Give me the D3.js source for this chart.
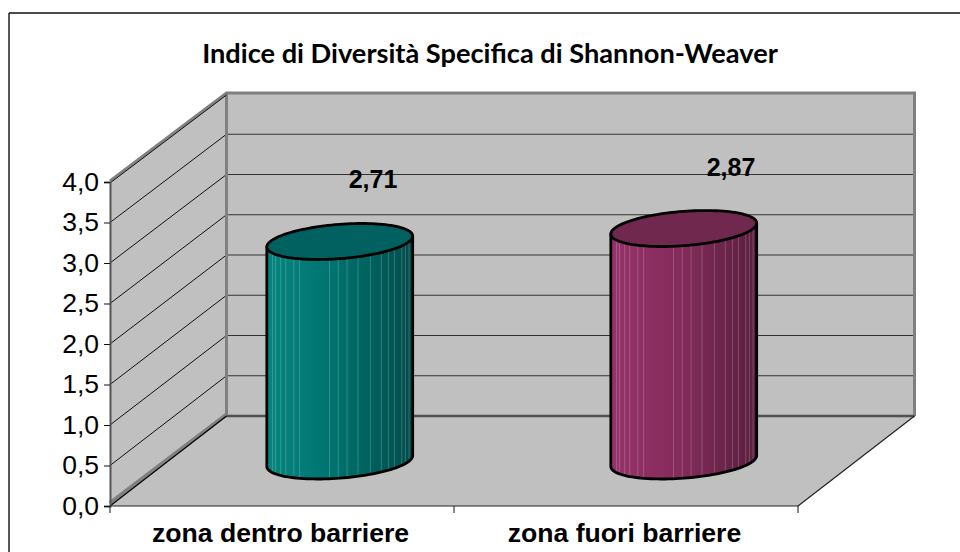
<!DOCTYPE html>
<html>
<head>
<meta charset="utf-8">
<script src="https://cdn.jsdelivr.net/npm/d3@7"></script>
<style>
  html, body { margin: 0; padding: 0; background: #fff; }
  svg { display: block; }
  text { font-family: "Liberation Sans", Arial, sans-serif; fill: #000; }
</style>
</head>
<body>
<svg id="chart" width="960" height="552"></svg>
<script>
// Chart values
const categories = ["zona dentro barriere", "zona fuori barriere"];
const values = [2.71, 2.87];
const valueLabels = ["2,71", "2,87"];
const yTicks = [0, 0.5, 1, 1.5, 2, 2.5, 3, 3.5, 4];
const chartTitle = "Indice di Diversità Specifica di Shannon-Weaver";

const svg = d3.select("#chart");

// Frame of the picture: only top and left edges are there
svg.append("line").attr("x1", 9).attr("y1", 13).attr("x2", 960).attr("y2", 13)
    .attr("stroke", "#111").attr("stroke-width", 1.4);
svg.append("line").attr("x1", 9).attr("y1", 13).attr("x2", 9).attr("y2", 552)
    .attr("stroke", "#111").attr("stroke-width", 1.4);

svg.append("text")
    .attr("x", 490).attr("y", 63)
    .attr("text-anchor", "middle")
    .style("font-family", "Lato, sans-serif")
    .style("font-weight", 700)
    .style("font-size", "27.2px")
    .text(chartTitle);

// Scales: front plane of the 3D box, the back wall has its own slightly flatter scale
const depth = { dx: 116.5, dy: -90 };
const x = d3.scaleBand().domain(categories).range([110, 798]);
const y = d3.scaleLinear().domain([0, 4]).range([506, 182]);
const yBack = d3.scaleLinear().domain([0, 4]).range([416, 94]);
const x0 = x.range()[0], x1 = x.range()[1];
const xb0 = x0 + depth.dx, xb1 = x1 + depth.dx;
const yBase = y(0), yTop = y(4);
const backBase = yBack(0), backTop = yBack(4);

const walls = svg.append("g");
const polygon = pts => "M" + pts.map(p => p.join(",")).join("L") + "Z";

// Floor
walls.append("path")
    .attr("d", polygon([[x0, yBase], [x1, yBase], [xb1, backBase], [xb0, backBase]]))
    .attr("fill", "#c0c0c0");
// Side wall
walls.append("path")
    .attr("d", polygon([[x0, yBase], [x0, yTop], [xb0, backTop], [xb0, backBase]]))
    .attr("fill", "#c0c0c0");
// Back wall
walls.append("rect")
    .attr("x", xb0).attr("y", backTop)
    .attr("width", x1 - x0).attr("height", backBase - backTop)
    .attr("fill", "#c0c0c0");

// Grid lines on both walls
const grid = walls.selectAll(".grid").data(yTicks.slice(1, -1)).enter();
grid.append("line")
    .attr("x1", xb0).attr("x2", xb1)
    .attr("y1", d => yBack(d)).attr("y2", d => yBack(d))
    .attr("stroke", "#333").attr("stroke-width", 1.2);
grid.append("line")
    .attr("x1", x0).attr("x2", xb0)
    .attr("y1", d => y(d)).attr("y2", d => yBack(d))
    .attr("stroke", "#111").attr("stroke-width", 1);

// Grey edges of the walls
const edge = "#808080";
walls.append("path")
    .attr("d", `M${x0},${yTop - 1}L${xb0},${backTop - 1}H${xb1}V${backBase}`)
    .attr("fill", "none").attr("stroke", edge).attr("stroke-width", 3);
walls.append("path")
    .attr("d", `M${xb0},${backTop}V${backBase}H${xb1}`)
    .attr("fill", "none").attr("stroke", edge).attr("stroke-width", 3);
walls.append("line")
    .attr("x1", x0).attr("y1", yTop + 1).attr("x2", xb0).attr("y2", backTop + 1)
    .attr("stroke", "#111").attr("stroke-width", 1);
walls.append("path")
    .attr("d", `M${x0},${yBase - 3}L${xb0},${backBase - 1.5}`)
    .attr("fill", "none").attr("stroke", edge).attr("stroke-width", 4);
walls.append("line")
    .attr("x1", x0).attr("y1", yBase).attr("x2", xb0).attr("y2", backBase)
    .attr("stroke", "#000").attr("stroke-width", 1.2);
walls.append("line")
    .attr("x1", xb0).attr("y1", backBase).attr("x2", xb1).attr("y2", backBase)
    .attr("stroke", "#222").attr("stroke-width", 1);
walls.append("line")
    .attr("x1", x1).attr("y1", yBase).attr("x2", xb1).attr("y2", backBase)
    .attr("stroke", "#222").attr("stroke-width", 1.2);

// Axes
const yAxis = svg.append("g")
    .attr("transform", `translate(${x0},0)`)
    .call(d3.axisLeft(y).tickValues(yTicks).tickSize(6).tickPadding(5)
        .tickFormat(d => d3.format(".1f")(d).replace(".", ",")));
yAxis.selectAll("text").style("font-size", "26.5px");
yAxis.selectAll("line").attr("stroke", "#111");
yAxis.select(".domain").attr("stroke", "#555").attr("stroke-width", 2);

const xAxis = svg.append("g")
    .attr("transform", `translate(-1.5,${yBase})`)
    .call(d3.axisBottom(x).tickSize(0).tickPadding(17));
xAxis.select(".domain").remove();
xAxis.selectAll("text")
    .style("font-size", "26.6px").style("font-weight", 700);
const xEdges = svg.append("g").attr("transform", `translate(0,${yBase})`);
xEdges.selectAll(".edge").data(d3.range(categories.length + 1)).enter().append("line")
    .attr("class", "edge")
    .attr("x1", i => x0 + i * x.step()).attr("x2", i => x0 + i * x.step())
    .attr("y1", 0).attr("y2", 7)
    .attr("stroke", "#111");
xEdges.append("line").attr("x1", x0).attr("x2", x1).attr("stroke", "#222").attr("stroke-width", 1.2);

// Cylinders
const defs = svg.append("defs");
const palettes = [
    { id: "teal", left: "#06857f", mid: "#00736f", right: "#024c4b", top: "#016060" },
    { id: "plum", left: "#96336a", mid: "#852c5c", right: "#5a1f3e", top: "#70284f" }
];
palettes.forEach(p => {
    const g = defs.append("linearGradient").attr("id", p.id);
    g.append("stop").attr("offset", "0%").attr("stop-color", p.left);
    g.append("stop").attr("offset", "45%").attr("stop-color", p.mid);
    g.append("stop").attr("offset", "100%").attr("stop-color", p.right);
});

const barWidth = x.bandwidth() * 0.424;
const stripes = [0.04, 0.06, 0.095, 0.13, 0.185, 0.225, 0.43, 0.49, 0.55, 0.625, 0.71, 0.785, 0.835, 0.875, 0.925, 0.95, 0.975];
const ring = d3.line().curve(d3.curveLinear);
const skewX = 22, skewY = -18;
const radius = Math.sqrt(barWidth * barWidth / 4 - skewX * skewX);
const tEdge = Math.atan2(skewX, radius);
// Point on the cylinder's slanted ellipse
const rim = (cx, cy, t) => [cx + radius * Math.cos(t) + skewX * Math.sin(t), cy + skewY * Math.sin(t)];
const labelShift = [91, 105];

const bars = svg.selectAll(".bar").data(categories).enter().append("g").attr("class", "bar");
bars.each(function(cat, i) {
    const g = d3.select(this);
    const pal = palettes[i];
    const mid = x(cat) + x.bandwidth() / 2;
    const cx = mid + depth.dx / 2 - 0.5;
    const cyBase = yBase + depth.dy / 2;
    const cyTop = cyBase - (y(0) - y(values[i]));

    // Front half of base, going from right edge round to left edge
    const front = d3.range(0, 61).map(k => rim(cx, cyBase, tEdge - (Math.PI * k / 60)));
    const body = [rim(cx, cyTop, tEdge), ...front, rim(cx, cyTop, tEdge - Math.PI)];
    const bodyPath = ring(body) + "Z";

    defs.append("clipPath").attr("id", "clip" + i).append("path").attr("d", bodyPath);
    g.append("path").attr("d", bodyPath).attr("fill", `url(#${pal.id})`);
    g.append("g").attr("clip-path", `url(#clip${i})`)
        .selectAll("line").data(stripes).enter().append("line")
        .attr("x1", d => cx - barWidth / 2 + d * barWidth)
        .attr("x2", d => cx - barWidth / 2 + d * barWidth)
        .attr("y1", cyTop - 30).attr("y2", cyBase + 30)
        .attr("stroke", "#fff").attr("stroke-opacity", 0.2).attr("stroke-width", 1);
    g.append("path").attr("d", bodyPath).attr("fill", "none")
        .attr("stroke", "#000").attr("stroke-width", 2.8).attr("stroke-linejoin", "round");

    const topRing = d3.range(0, 120).map(k => rim(cx, cyTop, Math.PI * 2 * k / 120));
    g.append("path").attr("d", ring(topRing) + "Z")
        .attr("fill", pal.top).attr("stroke", "#000").attr("stroke-width", 2.8);

    // Value label
    g.append("text")
        .attr("x", mid + labelShift[i])
        .attr("y", cyTop - 53)
        .attr("text-anchor", "middle")
        .style("font-size", "25px").style("font-weight", 700)
        .text(valueLabels[i]);
});
</script>
</body>
</html>
